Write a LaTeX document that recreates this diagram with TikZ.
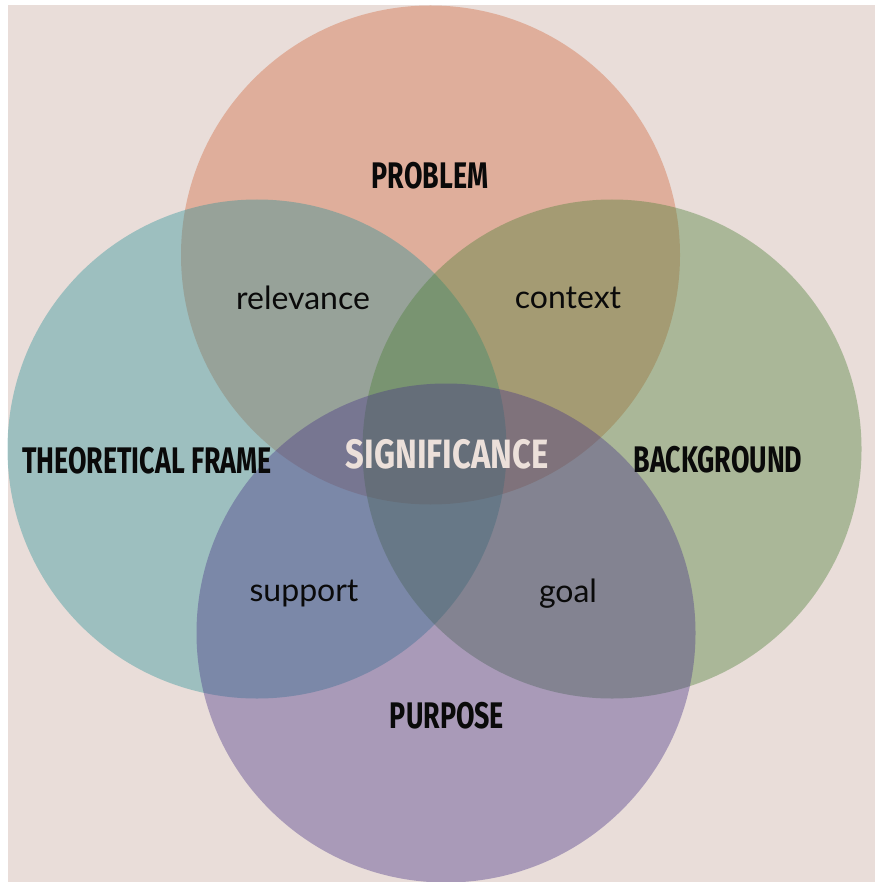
\documentclass[tikz,border=0pt]{standalone}
\usepackage{fontspec}
\usepackage{graphicx}
\setmainfont{Lato}
\newfontfamily\headfont{Fira Sans}
\newfontfamily\labfont{Lato}
\definecolor{bgpink}{RGB}{233,221,217}
\definecolor{ctop}{RGB}{210,104,62}
\definecolor{cleft}{RGB}{43,146,152}
\definecolor{cright}{RGB}{76,128,55}
\definecolor{cbottom}{RGB}{73,54,135}
\definecolor{sigtext}{RGB}{236,224,218}
\definecolor{ink}{RGB}{10,10,10}
\newcommand{\hdtext}[2][0.725]{\scalebox{#1}[1]{\headfont\bfseries\fontsize{37}{37}\selectfont #2}}
\begin{document}
\begin{tikzpicture}[x=1pt,y=-1pt,
  venn/.style={opacity=0.4},
  headlbl/.style={text=ink, inner sep=0pt},
  siglbl/.style={text=sigtext, inner sep=0pt},
  pairlbl/.style={text=ink, inner sep=0pt, font=\labfont\fontsize{32}{32}\selectfont}]
\useasboundingbox (0,0) rectangle (875,882);
\fill[white] (0,0) rectangle (875,882);
\fill[bgpink] (8,5) rectangle (875,882);
% circles
\fill[ctop, venn] (430.5,255) circle (249.5pt);
\fill[cleft, venn] (257,449) circle (249.5pt);
\fill[cright, venn] (612,449) circle (249.5pt);
\fill[cbottom, venn] (446,633) circle (249.5pt);
% headings
\node[headlbl] (problem) at (430,176) {\hdtext{PROBLEM}};
\node[headlbl] (theory) at (147,461) {\hdtext{THEORETICAL FRAME}};
\node[headlbl] (background) at (718,460) {\hdtext{BACKGROUND}};
\node[headlbl] (purpose) at (447,716) {\hdtext{PURPOSE}};
\node[siglbl] (significance) at (447,454) {\hdtext[0.8]{\fontsize{41}{41}\selectfont SIGNIFICANCE}};
% pair labels
\node[pairlbl] (relevance) at (303,298) {relevance};
\node[pairlbl] (context) at (568,298) {context};
\node[pairlbl] (support) at (304,594) {support};
\node[pairlbl] (goal) at (568,594) {goal};
\end{tikzpicture}
\end{document}
